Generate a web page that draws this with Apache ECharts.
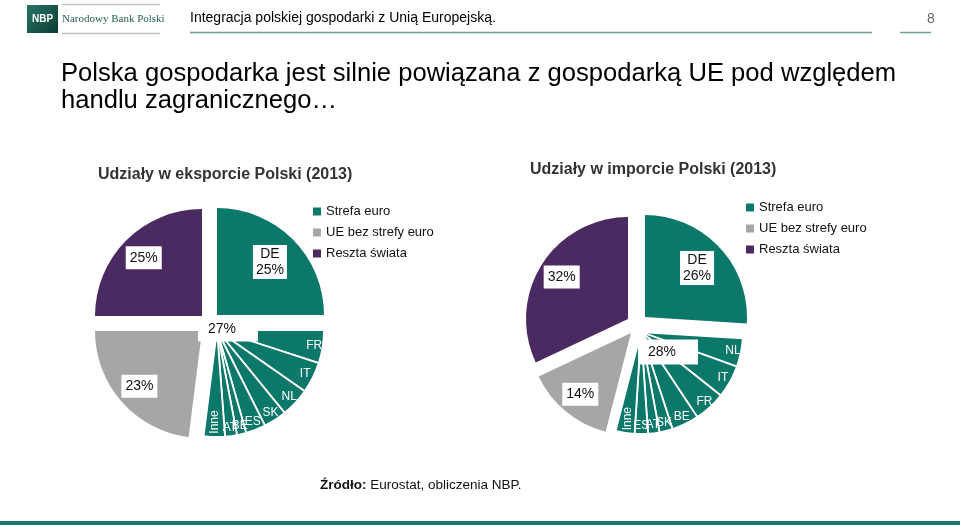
<!DOCTYPE html>
<html>
<head>
<meta charset="utf-8">
<script src="https://cdn.jsdelivr.net/npm/echarts@6/dist/echarts.min.js"></script>
<style>
html, body { margin: 0; padding: 0; background: #fff; }
#chart { width: 960px; height: 525px; }
</style>
</head>
<body>
<div id="chart"></div>
<script>
// dane: udzialy w eksporcie i imporcie Polski (2013), w %
var exportNames = ['DE', 'FR', 'IT', 'NL', 'SK', 'ES', 'BE', 'AT', 'Inne', 'UE bez strefy euro', 'Reszta świata'];
var exportValues = [25, 5.0, 4.7, 4.4, 3.5, 3.0, 1.4, 1.8, 3.2, 23, 25];
var exportGroups = [0, 1, 1, 1, 1, 1, 1, 1, 1, 2, 3];

var importNames = ['DE', 'NL', 'IT', 'FR', 'BE', 'SK', 'AT', 'ES', 'Inne', 'UE bez strefy euro', 'Reszta świata'];
var importValues = [26, 4.5, 5.2, 5.0, 4.3, 2.1, 1.8, 2.1, 3.0, 14, 32];
var importGroups = [0, 1, 1, 1, 1, 1, 1, 1, 1, 2, 3];

var groupNames = ['Strefa euro', 'Strefa euro', 'UE bez strefy euro', 'Reszta świata'];
var legendNames = ['Strefa euro', 'UE bez strefy euro', 'Reszta świata'];

var TEAL = '#0b786a';
var GRAY = '#a6a6a6';
var PURPLE = '#4a2a60';
var groupColors = [TEAL, TEAL, GRAY, PURPLE];
var legendColors = [TEAL, GRAY, PURPLE];
var labelRadius = [0.7, 0.92, 0.78, 0.77];
var FONT = 'Liberation Sans, Arial, sans-serif';

function buildPie(names, values, groups, centers, R, totalPos) {
    var total = 0;
    for (var i = 0; i < values.length; i++) total += values[i];
    // srodkowe katy wycinkow (zgodnie z ruchem wskazowek, od godz. 12)
    var mids = [];
    var cum = 0;
    for (var i = 0; i < values.length; i++) {
        mids.push((cum + values[i] / 2) / total * 2 * Math.PI);
        cum += values[i];
    }
    var series = [];
    for (var g = 0; g < 4; g++) {
        (function (g) {
            var c = centers[g];
            var k = labelRadius[g];
            series.push({
                type: 'pie',
                name: groupNames[g],
                center: c,
                radius: R,
                startAngle: 90,
                clockwise: true,
                silent: true,
                animation: false,
                avoidLabelOverlap: false,
                labelLine: { show: false },
                label: {
                    show: true,
                    position: 'inside',
                    fontFamily: FONT
                },
                labelLayout: function (params) {
                    var a = mids[params.dataIndex];
                    var kk = names[params.dataIndex] === 'Inne' ? 0.86 : k;
                    return {
                        x: c[0] + Math.sin(a) * R * kk,
                        y: c[1] - Math.cos(a) * R * kk,
                        align: 'center',
                        verticalAlign: 'middle'
                    };
                },
                data: names.map(function (n, i) {
                    if (groups[i] !== g) {
                        return {
                            name: n, value: values[i],
                            itemStyle: { color: 'rgba(0,0,0,0)', borderWidth: 0 },
                            label: { show: false }
                        };
                    }
                    var lab;
                    if (g === 1) {
                        lab = { show: true, formatter: '{b}', color: '#fff', fontSize: 12, rotate: n === 'Inne' ? 90 : 0 };
                    } else {
                        lab = {
                            show: true,
                            formatter: g === 0 ? '{b}\n{c}%' : '{c}%',
                            color: '#111', fontSize: 14, lineHeight: 16,
                            backgroundColor: '#fff', padding: g === 0 ? [1, 3] : [4, 4, 3, 4]
                        };
                    }
                    return {
                        name: n, value: values[i],
                        itemStyle: { color: groupColors[g], borderColor: '#fff', borderWidth: g === 1 ? 1.8 : 0 },
                        label: lab
                    };
                })
            });
        })(g);
    }
    // etykieta sumy dla strefy euro bez DE
    var euroRest = 0;
    for (var i = 0; i < values.length; i++) if (groups[i] === 1) euroRest += values[i];
    series.push({
        type: 'pie',
        name: 'suma',
        center: totalPos,
        radius: 1,
        silent: true,
        animation: false,
        labelLine: { show: false },
        itemStyle: { color: 'rgba(0,0,0,0)' },
        data: [{
            name: 'suma', value: euroRest,
            label: {
                show: true, position: 'center', formatter: Math.round(euroRest) + '%',
                color: '#111', fontSize: 14, fontFamily: FONT,
                backgroundColor: '#fff', padding: [3, 22, 8, 10]
            }
        }, {
            name: 'reszta', value: total - euroRest, label: { show: false }
        }]
    });
    return series;
}

var series = []
    .concat(buildPie(exportNames, exportValues, exportGroups,
        [[217, 315], [217, 330], [202, 331], [202, 316]], 107, [228, 329]))
    .concat(buildPie(importNames, importValues, importGroups,
        [[645, 317], [641, 332], [631, 333], [628, 319]], 102, [668, 352]));

function legendData() {
    return legendNames.map(function (n, i) {
        return { name: n, itemStyle: { color: legendColors[i] } };
    });
}

var legendBase = {
    orient: 'vertical',
    icon: 'rect',
    itemWidth: 8,
    itemHeight: 8,
    itemGap: 8,
    padding: 0,
    selectedMode: false,
    textStyle: { fontSize: 13, color: '#111', fontFamily: FONT }
};

var myChart = echarts.init(document.getElementById('chart'));

myChart.setOption({
    backgroundColor: '#fff',
    animation: false,
    legend: [
        Object.assign({}, legendBase, { left: 313, top: 205, data: legendData() }),
        Object.assign({}, legendBase, { left: 746, top: 201, data: legendData() })
    ],
    graphic: [
        { type: 'rect', shape: { x: 27, y: 5, width: 31, height: 28 },
          style: { fill: new echarts.graphic.LinearGradient(0, 0, 1, 1, [
              { offset: 0, color: '#2a7564' }, { offset: 1, color: '#0a3b32' }]) } },
        { type: 'text', x: 42.5, y: 19, style: { text: 'NBP', fill: '#fff', font: 'bold 10px ' + FONT, align: 'center', verticalAlign: 'middle' } },
        { type: 'text', x: 62, y: 19, style: { text: 'Narodowy Bank Polski', fill: '#1f5d50', font: '11px Liberation Serif, DejaVu Serif, serif', verticalAlign: 'middle' } },
        { type: 'line', shape: { x1: 62, y1: 4.5, x2: 160, y2: 4.5 }, style: { stroke: '#bcc7c3', lineWidth: 1.5 } },
        { type: 'line', shape: { x1: 62, y1: 33.5, x2: 160, y2: 33.5 }, style: { stroke: '#bcc7c3', lineWidth: 1.5 } },
        { type: 'text', x: 190, y: 18, style: { text: 'Integracja polskiej gospodarki z Unią Europejską.', fill: '#000', font: '14px ' + FONT, verticalAlign: 'middle' } },
        { type: 'line', shape: { x1: 190, y1: 32.5, x2: 872, y2: 32.5 }, style: { stroke: '#6f9c95', lineWidth: 1.5 } },
        { type: 'text', x: 931, y: 19, style: { text: '8', fill: '#666', font: '14px ' + FONT, align: 'center', verticalAlign: 'middle' } },
        { type: 'line', shape: { x1: 900, y1: 32.5, x2: 931, y2: 32.5 }, style: { stroke: '#6f9c95', lineWidth: 1.5 } },
        { type: 'text', x: 61, y: 74, style: { text: 'Polska gospodarka jest silnie powiązana z gospodarką UE pod względem', fill: '#000', font: '25.6px ' + FONT, verticalAlign: 'middle' } },
        { type: 'text', x: 61, y: 101, style: { text: 'handlu zagranicznego…', fill: '#000', font: '25.6px ' + FONT, verticalAlign: 'middle' } },
        { type: 'text', x: 98, y: 175, style: { text: 'Udziały w eksporcie Polski (2013)', fill: '#333', font: 'bold 16px ' + FONT, verticalAlign: 'middle' } },
        { type: 'text', x: 530, y: 170, style: { text: 'Udziały w imporcie Polski (2013)', fill: '#333', font: 'bold 16px ' + FONT, verticalAlign: 'middle' } },
        { type: 'text', x: 320, y: 485, style: {
            text: '{b|Źródło:} Eurostat, obliczenia NBP.', fill: '#111', font: '13.5px ' + FONT, verticalAlign: 'middle',
            rich: { b: { fontWeight: 'bold', fontSize: 13.5, fontFamily: FONT, fill: '#111' } } } },
        { type: 'rect', shape: { x: 0, y: 521, width: 960, height: 4 }, style: { fill: '#137a6c' } }
    ],
    series: series
});
</script>
</body>
</html>
